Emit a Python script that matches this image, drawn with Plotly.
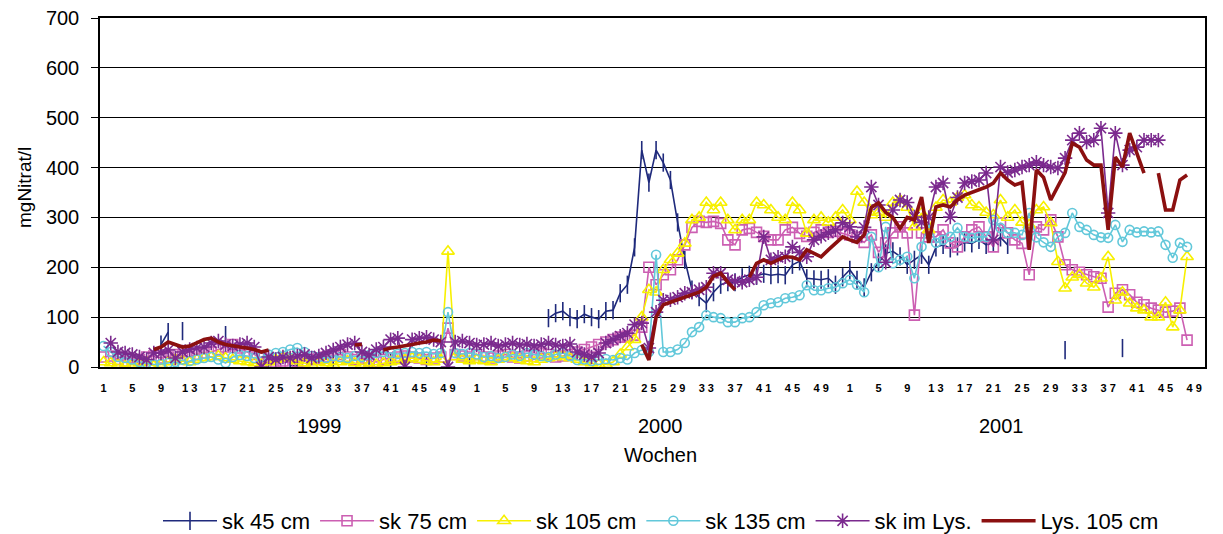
import plotly.graph_objects as go

N = None
years = ["1999", "2000", "2001"]
weeks_per_year = [52, 52, 50]
tick_weeks = list(range(1, 50, 4))

# ---- sk 45 cm ----
sk45_1999 = [N, N, N, N, N, N, N, N, 45, 70,
             N, 72, N, N, N, N, N, 64, N, N,
             N, N, N, 2, N, N, 3, 2, N, N,
             N, N, 10, N, N, N, N, 10, N, N,
             10, N, N, N, N, 5, N, N, N, N,
             N, 5]
sk45_2000 = [N, N, N, N, N, N, N, N, N, N,
             98, 108, 112, 100, 96, 106, 100, 96, 112, 114,
             148, 165, 240, 435, 370, 435, 410, 375, 290, 215,
             155, 140, 128, 150, 165, 170, 170, 180, 185, 183,
             187, 184, 186, 184, 205, 212, 178, 176, 175, 178,
             165, 180]
sk45_2001 = [195, 175, 160, 190, 210, 228, 232, 222, 205, 215,
             225, 205, 240, 245, 238, 242, 250, 248, 255, 245,
             250, 260, 245, N, N, N, N, N, N, N,
             34, N, N, N, N, N, N, N, 38, N,
             N, N, N, N, N, N, N, N, N, N]

# ---- sk 75 cm ----
sk75_1999 = [20, 22, 15, 10, 8, 15, 20, 22, 18, 20,
             25, 22, 20, 25, 28, 30, 35, 40, 45, 38,
             30, 25, 18, 15, 10, 12, 8, 10, 12, 15,
             18, 20, 22, 25, 20, 15, 18, 12, 10, 15,
             18, 20, 22, 20, 18, 15, 18, 20, 78, 25,
             22, 20]
sk75_2000 = [25, 20, 18, 22, 25, 20, 18, 22, 25, 28,
             25, 20, 22, 25, 30, 35, 40, 45, 50, 55,
             60, 62, 64, 80, 200, 165, 185, 195, 215, 245,
             280, 292, 290, 292, 288, 255, 245, 275, 278, 270,
             262, 255, 255, 275, 280, 268, 262, 270, 275, 270,
             272, 268]
sk75_2001 = [265, 260, 250, 265, 230, 249, 269, 281, 269, 104,
             269, 261, 261, 275, 249, 241, 261, 275, 281, 261,
             241, 289, 269, 255, 248, 185, 281, 275, 295, 261,
             205, 195, 190, 185, 181, 178, 120, 148, 155, 145,
             130, 125, 118, 114, 110, 112, 118, 54, N, N]

# ---- sk 105 cm ----
sk105_1999 = [10, 8, 5, 2, 5, 8, 10, 2, 5, 10,
              15, 12, 10, 15, 18, 20, 22, 18, 15, 12,
              10, 8, 5, 10, 15, 20, 18, 12, 8, 5,
              10, 8, 5, 10, 12, 8, 5, 3, 5, 8,
              10, 12, 15, 18, 15, 12, 10, 15, 232, 20,
              15, 12]
sk105_2000 = [15, 12, 10, 15, 20, 18, 15, 12, 10, 15,
              18, 20, 22, 18, 15, 10, 8, 5, 5, 10,
              25, 40, 55, 100, 155, 150, 195, 215, 228, 248,
              295, 300, 330, 315, 330, 295, 275, 295, 295, 330,
              325, 315, 300, 295, 330, 315, 268, 295, 300, 290,
              300, 315]
sk105_2001 = [295, 352, 330, 305, 310, 300, 330, 335, 320, 281,
              309, 275, 320, 335, 330, 340, 345, 325, 321, 310,
              305, 335, 300, 315, 290, 285, 315, 321, 289, 211,
              158, 180, 185, 168, 160, 178, 221, 134, 150, 128,
              118, 114, 100, 100, 130, 80, 114, 221, N, N]

# ---- sk 135 cm ----
sk135_1999 = [42, 30, 20, 18, 15, 10, 8, 5, 6, 8,
              10, 5, 12, 15, 18, 20, 15, 8, 20, 24,
              22, 18, 20, 25, 28, 30, 35, 38, 30, 22,
              20, 18, 22, 20, 18, 22, 20, 24, 28, 30,
              28, 26, 28, 30, 28, 30, 26, 28, 110, 28,
              26, 28]
sk135_2000 = [25, 20, 22, 18, 20, 25, 22, 28, 25, 22,
              20, 25, 28, 22, 14, 15, 12, 14, 16, 14,
              18, 15, 28, 34, 30, 225, 30, 30, 35, 48,
              70, 80, 104, 100, 98, 90, 90, 98, 100, 110,
              124, 128, 130, 138, 140, 144, 164, 154, 154, 158,
              160, 168]
sk135_2001 = [175, 165, 150, 261, 200, 281, 208, 215, 221, 178,
              241, 289, 249, 255, 261, 279, 261, 259, 261, 261,
              295, 279, 269, 269, 265, 309, 260, 250, 241, 261,
              269, 309, 281, 275, 265, 260, 259, 285, 251, 275,
              270, 272, 270, 272, 245, 219, 249, 241, N, N]

# ---- sk im Lys. ----
sklys_1999 = [N, 48, 30, 28, 25, 20, 15, 28, 28, 34,
              18, 30, 35, 38, 40, 48, 52, 45, 42, 45,
              48, 40, 0, 20, 15, 20, 18, 22, 25, 18,
              22, 28, 34, 40, 45, 48, 30, 24, 35, 40,
              55, 58, 0, 55, 58, 60, 55, 50, 0, 50,
              52, 48]
sklys_2000 = [44, 45, 48, 42, 45, 48, 44, 46, 42, 45,
              48, 44, 42, 46, 30, 25, 20, 28, 48, 55,
              62, 68, 85, 88, 38, 110, 134, 135, 140, 148,
              150, 155, 160, 188, 188, 175, 172, 170, 175, 180,
              261, 215, 220, 221, 241, 230, 221, 255, 262, 269,
              275, 289]
sklys_2001 = [281, 261, 280, 361, 325, 210, 315, 335, 330, 301,
              290, 300, 361, 369, 301, 340, 369, 372, 375, 389,
              255, 401, 390, 395, 401, 405, 411, 405, 401, 399,
              419, 455, 469, 451, 455, 479, 309, 469, 405, 435,
              441, 455, 455, 455, N, N, N, N, N, N]

# ---- Lys. 105 cm ----
lys105_1999 = [N, N, N, N, N, N, N, 35, 40, 50,
               45, 40, 42, 48, 55, 58, 50, 45, 42, 40,
               38, 35, 30, 34, N, N, N, N, N, N,
               N, N, N, N, N, 44, 45, N, N, 34,
               38, 40, 42, 45, 48, 50, 54, 52, N, N,
               N, N]
lys105_2000 = [N, N, N, N, N, N, N, N, N, N,
               N, N, N, N, N, N, N, N, N, N,
               N, N, N, 45, 14, 100, 125, 130, 135, 140,
               145, 150, 160, 182, 188, 170, 155, N, 180, 208,
               215, 208, 215, 221, 220, 215, 235, 228, 221, 235,
               249, 261]
lys105_2001 = [255, 250, 265, 320, 329, 310, 300, 278, 300, 295,
               341, 249, 321, 325, 321, 335, 345, 350, 355, 361,
               369, 389, 375, 365, 370, 235, 395, 380, 335, 361,
               390, 449, 441, 415, 405, 405, 275, 421, 401, 469,
               429, 389, N, 389, 315, 315, 375, 385, N, N]

series_names = ["sk 45 cm", "sk 75 cm", "sk 105 cm", "sk 135 cm", "sk im Lys.", "Lys. 105 cm"]
series_values = [
    sk45_1999 + sk45_2000 + sk45_2001,
    sk75_1999 + sk75_2000 + sk75_2001,
    sk105_1999 + sk105_2000 + sk105_2001,
    sk135_1999 + sk135_2000 + sk135_2001,
    sklys_1999 + sklys_2000 + sklys_2001,
    lys105_1999 + lys105_2000 + lys105_2001,
]
colors = ["#1F2A7C", "#CC5FB2", "#F7F000", "#62C8DA", "#7B2A8E", "#8B1010"]
symbols = ["line-ns-open", "square-open", "triangle-up-open", "circle-open", "asterisk-open", None]
msizes = [13, 10, 11, 9, 12, 0]
lwidths = [1.6, 1.6, 1.6, 1.6, 1.6, 3.6]

total = sum(weeks_per_year)
x = list(range(total))

fig = go.Figure()
for name, vals, c, sym, ms, lw in zip(series_names, series_values, colors, symbols, msizes, lwidths):
    if sym:
        fig.add_trace(go.Scatter(
            x=x, y=vals, name=name, mode="lines+markers",
            line=dict(color=c, width=lw),
            marker=dict(symbol=sym, size=ms, color=c, line=dict(color=c, width=1.6)),
        ))
    else:
        fig.add_trace(go.Scatter(
            x=x, y=vals, name=name, mode="lines",
            line=dict(color=c, width=lw),
        ))

tickvals, ticktext = [], []
base = 0
for n in weeks_per_year:
    for w in tick_weeks:
        if w <= n:
            tickvals.append(base + w - 1)
            ticktext.append(" ".join(str(w)))
    base += n

FONT = "Liberation Sans, Arial, sans-serif"
L, R, T, B = 100, 18, 18, 167
W, H = 1223, 534
pw, ph = W - L - R, H - T - B

def px_to_paper_x(px):
    return (px - L) / pw

def px_to_paper_y(py):
    return (H - B - py) / ph

annotations = []
year_px = [319, 660, 1001]
for yr, xp in zip(years, year_px):
    annotations.append(dict(text=yr, x=px_to_paper_x(xp), y=px_to_paper_y(426), xref="paper", yref="paper",
                            xanchor="center", yanchor="middle",
                            showarrow=False, font=dict(size=20, color="black", family=FONT)))
annotations.append(dict(text="Wochen", x=px_to_paper_x(660), y=px_to_paper_y(455), xref="paper", yref="paper",
                        xanchor="center", yanchor="middle",
                        showarrow=False, font=dict(size=20, color="black", family=FONT)))
annotations.append(dict(text="mgNitrat/l", x=px_to_paper_x(24), y=px_to_paper_y(188), xref="paper", yref="paper",
                        xanchor="center", yanchor="middle",
                        showarrow=False, textangle=-90, font=dict(size=19, color="black", family=FONT)))

fig.update_layout(
    width=W, height=H, autosize=False,
    margin=dict(l=L, r=R, t=T, b=B, autoexpand=False),
    paper_bgcolor="white", plot_bgcolor="white",
    font=dict(family=FONT, color="black"),
    showlegend=True,
    legend=dict(orientation="h", xref="container", yref="container",
                x=661 / W, xanchor="center", y=(H - 521) / H, yanchor="middle",
                font=dict(size=22, family=FONT, color="black"),
                itemwidth=54, tracegroupgap=0, bgcolor="rgba(0,0,0,0)"),
    annotations=annotations,
    xaxis=dict(range=[-0.5, total - 0.5], tickmode="array", tickvals=tickvals, ticktext=ticktext,
               tickangle=0, automargin=False,
               tickfont=dict(size=11, family=FONT, color="black", weight="bold"),
               showgrid=False, zeroline=False, showline=True, linecolor="black", linewidth=1.5,
               mirror=True, ticks="", ticklabelstandoff=10),
    yaxis=dict(range=[0, 700], tickmode="linear", tick0=0, dtick=100, automargin=False,
               tickfont=dict(size=20, family=FONT, color="black"),
               showgrid=True, gridcolor="black", gridwidth=1.2, zeroline=False,
               showline=True, linecolor="black", linewidth=1.5, mirror=True,
               ticks="outside", ticklen=7, tickcolor="black", ticklabelstandoff=8),
)

fig.write_html(
    "out.html",
    config={"displayModeBar": False},
    post_script="document.documentElement.style.margin='0';document.body.style.margin='0';"
                "document.body.style.overflow='hidden';",
)
